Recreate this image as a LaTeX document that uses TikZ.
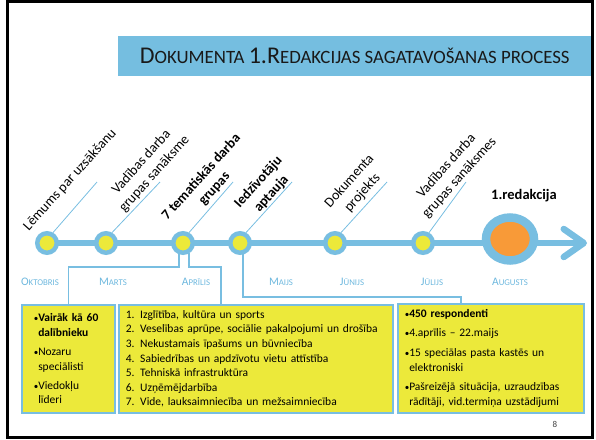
\documentclass[tikz,border=0pt]{standalone}
\usepackage{fontspec}
\setmainfont{Carlito}
\usepackage{tikz}
\usetikzlibrary{shapes.geometric,arrows.meta}

\definecolor{lineblue}{RGB}{120,190,225}
\definecolor{barblue}{RGB}{117,190,224}
\definecolor{monthblue}{RGB}{110,184,222}
\definecolor{evyellow}{RGB}{236,233,58}
\definecolor{evorange}{RGB}{248,154,56}

\newcommand{\ttl}[2]{{\fontsize{24}{26}\selectfont #1}{\fontsize{18.8}{21}\selectfont #2}}
\newcommand{\mon}[2]{{\fontsize{11.5}{13}\selectfont #1}{\fontsize{8.8}{10}\selectfont #2}}
\newcommand{\bul}{\makebox[4.5pt][l]{{\fontsize{9}{9}\selectfont •}}}
\newcommand{\ind}{\hspace*{4.5pt}}

\begin{document}
\begin{tikzpicture}[
    x=1pt, y=-1pt,
    every node/.style={font=\fontsize{11.5}{14.6}\selectfont, inner sep=0pt},
    titlebar/.style={rectangle, fill=barblue, minimum width=473pt, minimum height=40pt, anchor=north west, text=black!90},
    event/.style={circle, draw=lineblue, fill=evyellow, line width=4.5pt, minimum size=19.5pt},
    mainevent/.style={ellipse, draw=lineblue, fill=evorange, line width=8.5pt, minimum width=48pt, minimum height=43pt},
    evlabel/.style={rotate=48, align=center, font=\fontsize{14}{17.5}\selectfont},
    month/.style={text=monthblue},
    infobox/.style={rectangle, draw=lineblue, line width=1.5pt, fill=evyellow, anchor=north west, align=left, minimum height=108pt, inner xsep=7pt},
    timeline/.style={draw=lineblue, line width=6.5pt, -{Straight Barb[length=20pt, width=28pt, round]}},
    leader/.style={draw=lineblue, line width=0.8pt},
    bracket/.style={draw=lineblue, line width=1.5pt}
]
\useasboundingbox (0,0) rectangle (596,439);

% Virsraksts
\node[titlebar] (title) at (118,36) {\ttl{D}{OKUMENTA }\ttl{1.R}{EDAKCIJAS SAGATAVOŠANAS PROCESS}};

% Laika ass
\coordinate (start) at (47,243);
\coordinate (tip) at (587,243);
\draw[timeline] (start) -- (tip);

% Notikumi
\node[event] (e1) at (47,243) {};
\node[event] (e2) at (106,243) {};
\node[event] (e3) at (183,243) {};
\node[event] (e4) at (240,243) {};
\node[event] (e5) at (335,243) {};
\node[event] (e6) at (423,243) {};
\node[mainevent] (e7) at (510,239) {};

% Paraksti
\coordinate (t1) at (97,182);
\coordinate (t2) at (160,182);
\coordinate (t3) at (233,182);
\coordinate (t4) at (292,182);
\coordinate (t5) at (387,182);
\coordinate (t6) at (466,182);
\draw[leader] (e1.60) -- (t1);
\draw[leader] (e2.60) -- (t2);
\draw[leader] (e3.60) -- (t3);
\draw[leader] (e4.60) -- (t4);
\draw[leader] (e5.60) -- (t5);
\draw[leader] (e6.60) -- (t6);

\node[evlabel] (l1) at (70,180) {Lēmums par uzsākšanu};
\node[evlabel] (l2) at (148,168) {Vadības darba\\grupas sanāksme};
\node[evlabel] (l3) at (208,183) {\textbf{7 tematiskās darba}\\\textbf{grupas}};
\node[evlabel] (l4) at (265,188) {\textbf{Iedzīvotāju}\\\textbf{aptauja}};
\node[evlabel] (l5) at (356,187) {Dokumenta\\projekts};
\node[evlabel] (l6) at (453,172) {Vadības darba\\grupas sanāksmes};
\node[font=\bfseries\fontsize{14.5}{17}\selectfont] (l7) at (524,196) {1.redakcija};

% Mēneši
\node[month] (m1) at (40,282) {\mon{O}{KTOBRIS}};
\node[month] (m2) at (113,282) {\mon{M}{ARTS}};
\node[month] (m3) at (196,282) {\mon{A}{PRĪLIS}};
\node[month] (m4) at (281,282) {\mon{M}{AIJS}};
\node[month] (m5) at (352,282) {\mon{J}{ŪNIJS}};
\node[month] (m6) at (432,282) {\mon{J}{ŪLIJS}};
\node[month] (m7) at (510,282) {\mon{A}{UGUSTS}};

% Lodziņi
\node[infobox, text width=69pt, inner xsep=12pt] (box1) at (21,304) {\bul\textbf{Vairāk kā 60}\\\ind\textbf{dalībnieku}\\[4.5pt]\bul Nozaru\\\ind speciālisti\\[4.5pt]\bul Viedokļu\\\ind līderi};
\node[infobox, text width=260pt] (box2) at (118,304) {1. Izglītība, kultūra un sports\\2. Veselības aprūpe, sociālie pakalpojumi un drošība\\3. Nekustamais īpašums un būvniecība\\4. Sabiedrības un apdzīvotu vietu attīstība\\5. Tehniskā infrastruktūra\\6. Uzņēmējdarbība\\7. Vide, lauksaimniecība un mežsaimniecība};
\node[infobox, text width=172pt, minimum height=109pt] (box3) at (397,303) {\bul\textbf{450 respondenti}\\[5pt]\bul 4.aprīlis – 22.maijs\\[5pt]\bul 15 speciālas pasta kastēs un\\\ind elektroniski\\[5pt]\bul Pašreizējā situācija, uzraudzības\\\ind rādītāji, vid.termiņa uzstādījumi};

% Savienojumi
\draw[bracket] ([xshift=-4pt,yshift=2pt]e3.south) -- ++(0,14) -| (box1.north);
\draw[bracket] ([xshift=6pt,yshift=2pt]e3.south) -- ++(0,14) -| ([xshift=103pt]box2.north west);
\draw[bracket] ([xshift=3pt,yshift=2pt]e4.south) -- ++(0,44) -| ([xshift=64pt]box3.north west);

\node[font=\fontsize{9}{10}\selectfont, text=black!75] (pnum) at (555,424) {8};

% Rāmis
\draw[line width=3pt] (7.5,1.5) rectangle (592.5,437.5);

\end{tikzpicture}
\end{document}
